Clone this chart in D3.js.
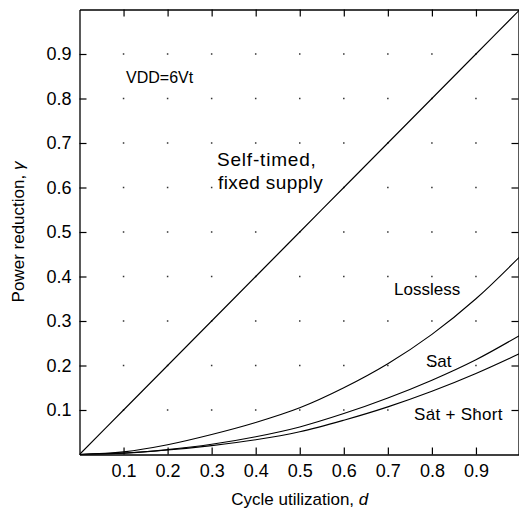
<!DOCTYPE html>
<html>
<head>
<meta charset="utf-8">
<script src="https://cdn.jsdelivr.net/npm/d3@7"></script>
<style>
  html, body { margin: 0; padding: 0; background: #fff; }
  svg { display: block; }
  text { font-family: "Liberation Sans", Arial, Helvetica, sans-serif; fill: #000; }
</style>
</head>
<body>
<svg id="chart" width="519" height="513"></svg>
<script>
// ---- data ----
const cycleUtil = [0, 0.1, 0.2, 0.3, 0.4, 0.5, 0.6, 0.7, 0.8, 0.9, 1.0];
const selfTimed = [0, 0.1, 0.2, 0.3, 0.4, 0.5, 0.6, 0.7, 0.8, 0.9, 1.0];
const lossless  = [0, 0.006, 0.022, 0.045, 0.072, 0.105, 0.150, 0.204, 0.270, 0.350, 0.445];
const sat       = [0, 0.003, 0.011, 0.023, 0.040, 0.062, 0.092, 0.127, 0.167, 0.213, 0.268];
const satShort  = [0, 0.003, 0.010, 0.020, 0.033, 0.051, 0.077, 0.107, 0.142, 0.182, 0.227];
const xTicks = [0.1, 0.2, 0.3, 0.4, 0.5, 0.6, 0.7, 0.8, 0.9];
const yTicks = [0.1, 0.2, 0.3, 0.4, 0.5, 0.6, 0.7, 0.8, 0.9];
const xLabel = "Cycle utilization, ";
const yLabel = "Power reduction, ";

// ---- layout ----
const svg = d3.select("#chart");
const x = d3.scaleLinear().domain([0, 1]).range([79.5, 520]);
const y = d3.scaleLinear().domain([0, 1]).range([454.5, 9.5]);
const tickLen = 7;

// grid dots
const dots = [];
xTicks.forEach(a => yTicks.forEach(b => dots.push([a, b])));
svg.append("g").selectAll("rect").data(dots).join("rect")
  .attr("x", d => x(d[0]) - 0.75).attr("y", d => y(d[1]) - 0.75)
  .attr("width", 1.5).attr("height", 1.5).attr("fill", "#333");

// axes (inward ticks, frame)
const fmt = d3.format(".1f");
const axB = svg.append("g").attr("transform", `translate(0,${y(0)})`)
  .call(d3.axisBottom(x).tickValues(xTicks).tickSizeInner(-tickLen).tickSizeOuter(0).tickPadding(10).tickFormat(fmt));
const axT = svg.append("g").attr("transform", `translate(0,${y(1)})`)
  .call(d3.axisTop(x).tickValues(xTicks).tickSizeInner(-tickLen).tickSizeOuter(0).tickFormat(""));
const axL = svg.append("g").attr("transform", `translate(${x(0)},0)`)
  .call(d3.axisLeft(y).tickValues(yTicks).tickSizeInner(-tickLen).tickSizeOuter(0).tickPadding(8).tickFormat(fmt));
const axR = svg.append("g").attr("transform", `translate(${x(1) - 1.5},0)`)
  .call(d3.axisRight(y).tickValues(yTicks).tickSizeInner(-tickLen).tickSizeOuter(0).tickFormat(""));
[axB, axT, axL, axR].forEach(g => {
  g.select(".domain").attr("stroke", "#000").attr("stroke-width", 1.3);
  g.selectAll(".tick line").attr("stroke", "#000").attr("stroke-width", 1.2);
  g.selectAll(".tick text").attr("font-size", 18).attr("font-family", "Liberation Sans, Arial, sans-serif").attr("fill", "#000");
});

// lines
const line = d3.line().x((d, i) => x(cycleUtil[i])).y(d => y(d)).curve(d3.curveCatmullRom.alpha(0.5));
const clip = svg.append("clipPath").attr("id", "clip").append("rect")
  .attr("x", x(0)).attr("y", y(1)).attr("width", x(1) - x(0)).attr("height", y(0) - y(1));
const lg = svg.append("g").attr("clip-path", "url(#clip)");
[selfTimed, lossless, sat, satShort].forEach(s => {
  lg.append("path").datum(s).attr("d", line)
    .attr("fill", "none").attr("stroke", "#000").attr("stroke-width", 1.1);
});

// annotations
const ann = svg.append("g").attr("font-size", 17);
ann.append("text").attr("x", 126).attr("y", 83).attr("font-size", 16).text("VDD=6Vt");
ann.append("text").attr("x", 217).attr("y", 166).attr("font-size", 19).attr("letter-spacing", 0.8).text("Self-timed,");
ann.append("text").attr("x", 218).attr("y", 189).attr("font-size", 19).attr("letter-spacing", 0.4).text("fixed supply");
ann.append("text").attr("x", 394).attr("y", 295).text("Lossless");
ann.append("text").attr("x", 426).attr("y", 367).text("Sat");
ann.append("text").attr("x", 414).attr("y", 420).attr("letter-spacing", 0.3).text("Sat + Short");

// axis titles
const xt = svg.append("text").attr("x", (x(0) + x(1)) / 2).attr("y", 505)
  .attr("text-anchor", "middle").attr("font-size", 17);
xt.append("tspan").text(xLabel);
xt.append("tspan").attr("font-style", "italic").text("d");

const yt = svg.append("text")
  .attr("transform", `translate(24,${(y(0) + y(1)) / 2}) rotate(-90)`)
  .attr("text-anchor", "middle").attr("font-size", 17);
yt.append("tspan").text(yLabel);
yt.append("tspan").attr("font-style", "italic").text("γ");
</script>
</body>
</html>
